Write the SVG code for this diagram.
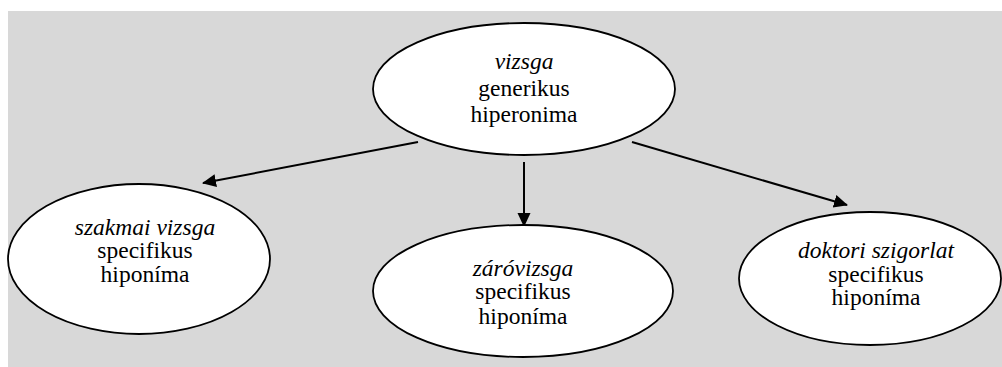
<svg xmlns="http://www.w3.org/2000/svg" width="1002" height="367" viewBox="0 0 1002 367">
  <style>
    .node { fill: #ffffff; stroke: #000000; stroke-width: 1.8; }
    .t { font-family: 'Liberation Serif', 'Times New Roman', serif; font-size: 23.5px; fill: #000000; text-anchor: middle; }
    .i { font-style: italic; }
    .conn { stroke: #000000; stroke-width: 2; fill: none; marker-end: url(#arr); }
  </style>
  <defs>
    <marker id="arr" markerWidth="14" markerHeight="14" refX="13" refY="6.5" orient="auto" markerUnits="userSpaceOnUse">
      <path d="M0,0 L14,6.5 L0,13 Z" fill="#000000"/>
    </marker>
  </defs>
  <rect x="8" y="11" width="994" height="356" fill="#d8d8d8"/>
  <g id="connectors">
    <line class="conn" x1="418" y1="142" x2="203" y2="183"/>
    <line class="conn" x1="524" y1="162" x2="524" y2="226"/>
    <line class="conn" x1="632" y1="142" x2="847" y2="205"/>
  </g>
  <g id="node-vizsga">
    <ellipse class="node" cx="524" cy="89" rx="151" ry="66"/>
    <text class="t i" x="524" y="69">vizsga</text>
    <text class="t" x="524" y="96">generikus</text>
    <text class="t" x="524" y="122">hiperonima</text>
  </g>
  <g id="node-szakmai">
    <ellipse class="node" cx="139" cy="259" rx="131" ry="75"/>
    <text class="t i" x="145" y="235">szakmai vizsga</text>
    <text class="t" x="145" y="258">specifikus</text>
    <text class="t" x="145" y="282">hiponíma</text>
  </g>
  <g id="node-zarovizsga">
    <ellipse class="node" cx="523" cy="291" rx="150" ry="66"/>
    <text class="t i" x="523" y="276">záróvizsga</text>
    <text class="t" x="523" y="299">specifikus</text>
    <text class="t" x="523" y="324">hiponíma</text>
  </g>
  <g id="node-doktori">
    <ellipse class="node" cx="870" cy="278.5" rx="131" ry="66.5"/>
    <text class="t i" x="876" y="258">doktori szigorlat</text>
    <text class="t" x="876" y="282">specifikus</text>
    <text class="t" x="876" y="305">hiponíma</text>
  </g>
</svg>
